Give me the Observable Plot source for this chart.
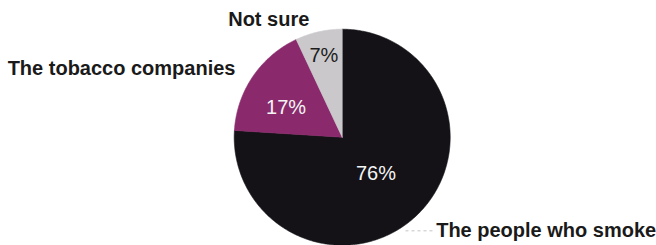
<!DOCTYPE html>
<html>
<head>
<meta charset="utf-8">
<script src="https://cdn.jsdelivr.net/npm/d3@7"></script>
<script src="https://cdn.jsdelivr.net/npm/@observablehq/plot@0.6"></script>
<style>
  html, body { margin: 0; padding: 0; background: #fff; }
  #chart svg { display: block; font-family: "Liberation Sans", Arial, Helvetica, sans-serif; }
</style>
</head>
<body>
<div id="chart"></div>
<script>
// ---- data ----
const categories = ["The people who smoke", "The tobacco companies", "Not sure"];
const values = [76, 17, 7];
const percentLabels = ["76%", "17%", "7%"];

// ---- styling / layout ----
const sliceColors = ["#141217", "#8a2a6c", "#cac8cb"];
const percentColors = ["#f4f4f4", "#f4f4f4", "#1c1c1c"];
const labelRadius = [0.456, 0.586, 0.778];     // fraction of radius
const labelAngleNudge = [0, -6.7, 0];           // degrees
// outer category label anchors (pie units, radius = 1)
const outerLabelX = [0.870, -0.988, -0.680];
const outerLabelY = [-0.867, 0.631, 1.087];
const outerLabelAnchor = ["start", "end", "middle"];

const cx = 341.7, cy = 136.7, R = 108;

const pie = d3.pie().sort(null).value(d => d)(values);

// slice polygons
const slicePts = [];
pie.forEach((p, i) => {
  const steps = Math.max(8, Math.ceil((p.endAngle - p.startAngle) / 0.01));
  slicePts.push({slice: categories[i], x: 0, y: 0});
  for (let k = 0; k <= steps; k++) {
    const a = p.startAngle + (p.endAngle - p.startAngle) * k / steps;
    slicePts.push({slice: categories[i], x: Math.sin(a), y: Math.cos(a)});
  }
  slicePts.push({slice: categories[i], x: 0, y: 0});
});

const pctData = pie.map((p, i) => {
  const a = (p.startAngle + p.endAngle) / 2 + labelAngleNudge[i] * Math.PI / 180;
  return {label: percentLabels[i], color: percentColors[i],
          x: labelRadius[i] * Math.sin(a), y: labelRadius[i] * Math.cos(a)};
});

const outerData = categories.map((c, i) => ({
  label: c, x: outerLabelX[i], y: outerLabelY[i], anchor: outerLabelAnchor[i]
}));

const chart = Plot.plot({
  width: 656,
  height: 245,
  margin: 0,
  x: {domain: [-1, 1], range: [cx - R, cx + R], axis: null},
  y: {domain: [-1, 1], range: [cy + R, cy - R], axis: null},
  color: {domain: categories, range: sliceColors},
  marks: [
    Plot.line(slicePts, {x: "x", y: "y", z: "slice", fill: "slice", stroke: "slice", strokeWidth: 0.6, curve: "linear"}),
    Plot.link([outerData[0]], {x1: d => d.x - 0.284, x2: d => d.x - 0.034, y1: "y", y2: "y",
      stroke: "#c4c4c4", strokeWidth: 1, strokeDasharray: "3,3"}),
    Plot.text(pctData, {x: "x", y: "y", text: "label", fill: d => d.color,
      fontSize: 20, fontWeight: "normal"}),
    ...outerData.map(d => Plot.text([d], {x: "x", y: "y", text: "label", textAnchor: d.anchor,
      fill: "#1a1a1a", fontSize: 20, fontWeight: "bold"}))
  ]
});
document.getElementById("chart").appendChild(chart);
</script>
</body>
</html>
